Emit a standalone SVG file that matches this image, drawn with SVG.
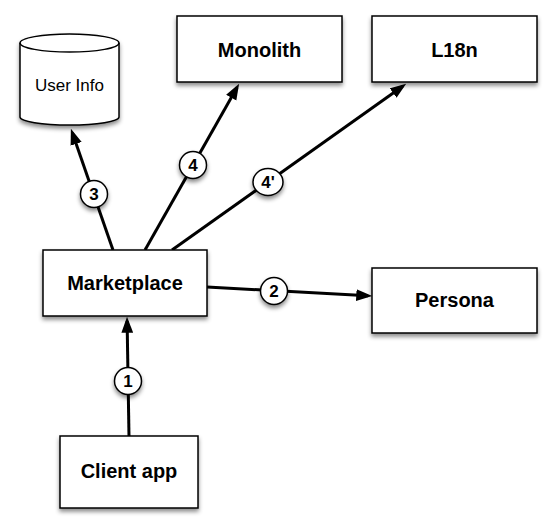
<svg xmlns="http://www.w3.org/2000/svg" width="556" height="532" viewBox="0 0 556 532">
<defs>
<filter id="sh" x="-20%" y="-20%" width="140%" height="150%">
<feDropShadow dx="0" dy="3" stdDeviation="2" flood-color="#000" flood-opacity="0.45"/>
</filter>
<marker id="ah" markerUnits="userSpaceOnUse" markerWidth="16" markerHeight="12" viewBox="0 0 15 11" refX="11" refY="5.5" orient="auto">
<path d="M0,0 L15,5.5 L0,11 z" fill="#000"/>
</marker>
<style>
.box{fill:#fff;stroke:#000;stroke-width:1.5;filter:url(#sh)}
.lbl{font-family:"Liberation Sans",Arial,sans-serif;font-weight:bold;font-size:20px;text-anchor:middle;fill:#000}
.reg{font-family:"Liberation Sans",Arial,sans-serif;font-size:17px;text-anchor:middle;fill:#000}
.edge{fill:none;stroke:#000;stroke-width:3;marker-end:url(#ah)}
.num{fill:#fff;stroke:#000;stroke-width:1.5;filter:url(#sh)}
.nt{font-family:"Liberation Sans",Arial,sans-serif;font-weight:bold;font-size:17px;text-anchor:middle;fill:#000}
</style>
</defs>
<g id="connectors">
<path class="edge" d="M129,436 L127.1,321"/>
<path class="edge" d="M207,287 L368,295.8"/>
<path class="edge" d="M113,250 L72.3,132.8"/>
<path class="edge" d="M145,250 L237,87.5"/>
<path class="edge" d="M172,250 L402.7,86.3"/>
<g id="label1"><circle class="num" cx="128" cy="381" r="13.5"/><text class="nt" x="128" y="387">1</text></g>
<g id="label2"><circle class="num" cx="274" cy="291" r="13.5"/><text class="nt" x="274" y="297">2</text></g>
<g id="label3"><circle class="num" cx="94" cy="194" r="13.5"/><text class="nt" x="94" y="200">3</text></g>
<g id="label4"><circle class="num" cx="193" cy="165" r="13.5"/><text class="nt" x="193" y="171">4</text></g>
<g id="label4p"><ellipse class="num" cx="268" cy="182" rx="15" ry="13.5"/><text class="nt" x="268" y="188">4'</text></g>
</g>
<g id="userinfo">
<path class="box" d="M20,43 V117 A49.5,8 0 0 0 119,117 V43 A49.5,9 0 0 0 20,43 Z"/>
<path d="M20,43 A49.5,9 0 0 0 119,43" fill="none" stroke="#000" stroke-width="1.5"/>
<text class="reg" x="69.5" y="91">User Info</text>
</g>
<g id="monolith">
<rect class="box" x="177" y="16" width="165" height="66"/>
<text class="lbl" x="259.5" y="57">Monolith</text>
</g>
<g id="l18n">
<rect class="box" x="372" y="16" width="165" height="66"/>
<text class="lbl" x="454.5" y="57">L18n</text>
</g>
<g id="marketplace">
<rect class="box" x="43" y="250" width="164" height="66"/>
<text class="lbl" x="125" y="290">Marketplace</text>
</g>
<g id="persona">
<rect class="box" x="372" y="268" width="165" height="65"/>
<text class="lbl" x="454.5" y="307">Persona</text>
</g>
<g id="clientapp">
<rect class="box" x="60" y="436" width="138" height="72"/>
<text class="lbl" x="129" y="478">Client app</text>
</g>
</svg>
